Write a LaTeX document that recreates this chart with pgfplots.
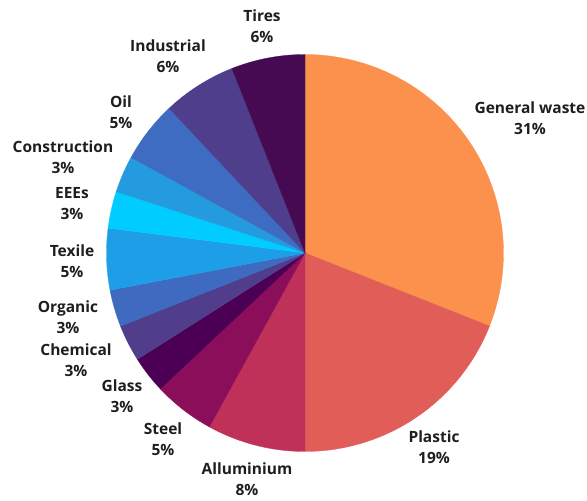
\documentclass[border=0pt]{standalone}
\usepackage{pgfplots}
\usepackage{pgfplotstable}
\pgfplotsset{compat=1.18}
\usepackage{fontspec}
\setmainfont{Open Sans}
\definecolor{c0}{RGB}{251,145,77}
\definecolor{c1}{RGB}{225,94,88}
\definecolor{c2}{RGB}{192,49,90}
\definecolor{c3}{RGB}{139,14,90}
\definecolor{c4}{RGB}{75,0,85}
\definecolor{c5}{RGB}{80,62,140}
\definecolor{c6}{RGB}{62,107,192}
\definecolor{c7}{RGB}{30,158,230}
\definecolor{c8}{RGB}{0,204,255}
\definecolor{c9}{RGB}{35,155,222}
\definecolor{c10}{RGB}{62,108,194}
\definecolor{c11}{RGB}{79,62,140}
\definecolor{c12}{RGB}{70,10,82}
\definecolor{txt}{RGB}{30,30,30}
\pgfplotstableread{
label value lx ly
{General waste} 31 530 383
Plastic 19 434 53.5
Alluminium 8 247 21.5
Steel 5 163 62
Glass 3 122 104.5
Chemical 3 76 140.5
Organic 3 68 184
Texile 5 72 239.5
EEEs 3 72 297
Construction 3 63 344
Oil 5 121 389
Industrial 6 168 444.5
Tires 6 262 474.5
}\wastedata
\begin{document}
\begin{tikzpicture}
\begin{axis}[
  width=587pt, height=501pt, scale only axis,
  xmin=0, xmax=587, ymin=0, ymax=501,
  hide axis, clip=false,
]
\path (axis cs:0,0) rectangle (axis cs:587,501);
\gdef\astart{90}
\pgfplotsforeachungrouped \i in {0,...,12}{%
  \pgfplotstablegetelem{\i}{value}\of\wastedata
  \pgfmathsetmacro\vv{\pgfplotsretval}%
  \pgfmathsetmacro\aend{\astart-3.6*\vv}%
  \edef\cmd{\noexpand\fill[c\i, draw=c\i, line width=0.3pt] (axis cs:305,248) -- ++(\astart:198.5pt) arc[start angle=\astart, end angle=\aend, radius=198.5pt] -- cycle;}%
  \cmd
  \pgfplotstablegetelem{\i}{label}\of\wastedata
  \let\lab\pgfplotsretval
  \pgfplotstablegetelem{\i}{lx}\of\wastedata
  \let\lx\pgfplotsretval
  \pgfplotstablegetelem{\i}{ly}\of\wastedata
  \let\ly\pgfplotsretval
  \edef\cmd{\noexpand\node[align=center, text=txt, font=\noexpand\bfseries\noexpand\fontsize{15.5}{21}\noexpand\selectfont, inner sep=0pt] at (axis cs:\lx,\ly) {\lab\noexpand\\\vv\noexpand\%};}%
  \cmd
  \global\let\astart\aend
}
\end{axis}
\end{tikzpicture}
\end{document}
